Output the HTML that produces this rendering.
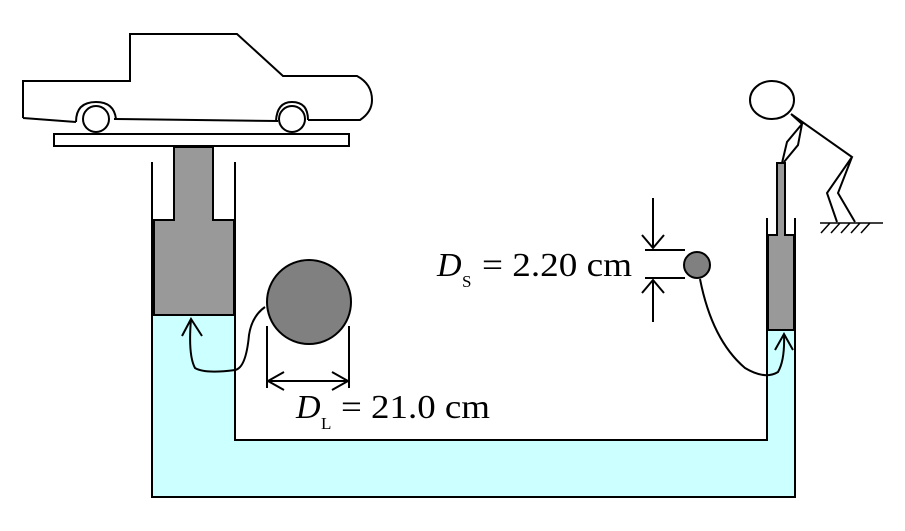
<!DOCTYPE html>
<html><head><style>body{margin:0;background:#fff}svg{display:block}</style></head><body>
<svg width="905" height="531" viewBox="0 0 905 531" xmlns="http://www.w3.org/2000/svg" font-family="Liberation Serif, serif">
<!-- fluid -->
<path d="M153 315 H234 V440 H768 V330 H794 V497 H153 Z" fill="#ccffff"/>
<!-- car -->
<path d="M23 118 V81 H130 V34 H237 L283 76 H357 Q372 84 372 100 Q372 112 360 120 H308" fill="none" stroke="#000" stroke-width="2"/>
<path d="M23 118 L76 122 M114 119 L278 121" fill="none" stroke="#000" stroke-width="2"/>
<path d="M76 122 Q76 102 96 102 Q114 102 116 119" fill="none" stroke="#000" stroke-width="2"/>
<path d="M276 121 Q277 102 292 102 Q308 102 308 120" fill="none" stroke="#000" stroke-width="2"/>
<circle cx="96" cy="119" r="13" fill="#fff" stroke="#000" stroke-width="2"/>
<circle cx="292" cy="119" r="13" fill="#fff" stroke="#000" stroke-width="2"/>
<rect x="54" y="134" width="295" height="12" fill="#fff" stroke="#000" stroke-width="2"/>
<!-- left piston -->
<path d="M174 147 H213 V220 H234 V315 H154 V220 H174 Z" fill="#999" stroke="#000" stroke-width="2"/>
<!-- container -->
<path d="M152 162 V497 H795 V218" fill="none" stroke="#000" stroke-width="2"/>
<path d="M235 162 V440 H767 V218" fill="none" stroke="#000" stroke-width="2"/>
<!-- right piston -->
<path d="M777 163 H785 V235 H794 V330 H768 V235 H777 Z" fill="#999" stroke="#000" stroke-width="2"/>
<!-- person -->
<ellipse cx="772" cy="100" rx="22" ry="19" fill="#fff" stroke="#000" stroke-width="2"/>
<path d="M791 114 L802 124 L787 142 L782 163 M802 124 L798 145 L784 162 M791 114 L852 157 L827 193 L837 222 M852 157 L838 193 L855 222" fill="none" stroke="#000" stroke-width="2"/>
<path d="M820 223 H883 M821 233 L830 223 M831 233 L840 223 M841 233 L850 223 M851 233 L860 223 M861 233 L870 223" fill="none" stroke="#000" stroke-width="1.5"/>
<!-- large circle -->
<circle cx="309" cy="302" r="42" fill="#808080" stroke="#000" stroke-width="2"/>
<path d="M267 326 V388 M349 326 V388 M268 381 H348 M284 372 L268 381 L284 390 M332 372 L348 381 L332 390" fill="none" stroke="#000" stroke-width="2"/>
<path d="M265 307 Q252 316 249 335 Q246 368 235 370 Q205 374 195 368 Q188 355 191 319 M182 336 L191 319 L202 336" fill="none" stroke="#000" stroke-width="2"/>
<text x="296" y="418" font-size="34" font-style="italic">D</text>
<text x="321" y="429" font-size="17">L</text>
<text x="341" y="418" font-size="34" textLength="149" lengthAdjust="spacingAndGlyphs">= 21.0 cm</text>
<!-- small circle -->
<circle cx="697" cy="265" r="13" fill="#808080" stroke="#000" stroke-width="2"/>
<path d="M645 250 H685 M645 278 H685 M653 198 V248 M653 280 V322 M642 235 L653 248 L664 235 M642 293 L653 280 L664 293" fill="none" stroke="#000" stroke-width="2"/>
<path d="M700 279 Q712 340 745 368 Q765 380 778 372 Q785 360 784 334 M775 350 L784 334 L793 350" fill="none" stroke="#000" stroke-width="2"/>
<text x="437" y="276" font-size="34" font-style="italic">D</text>
<text x="462" y="287" font-size="17">S</text>
<text x="482" y="276" font-size="34" textLength="150" lengthAdjust="spacingAndGlyphs">= 2.20 cm</text>
</svg>
</body></html>
